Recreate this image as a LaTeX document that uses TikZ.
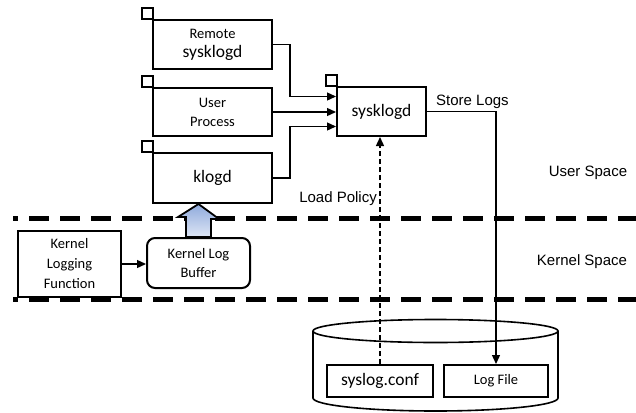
\documentclass[tikz,border=0pt]{standalone}
\usepackage{fontspec}
\setmainfont{Carlito}
\newfontfamily\arialfont{Liberation Sans}
\usetikzlibrary{arrows.meta}
\definecolor{arrowtop}{RGB}{143,170,220}
\definecolor{arrowbot}{RGB}{222,230,245}

\begin{document}
\begin{tikzpicture}[x=1pt,y=-1pt,
            box/.style = {draw, line width=2pt, fill=white, align=center,
                        inner sep=0pt, font=\fontsize{14.5}{19}\selectfont},
            big/.style = {font=\fontsize{17.5}{20}\selectfont},
            lbl/.style = {font=\arialfont\fontsize{15}{18}\selectfont, inner sep=0pt},
            arr/.style = {line width=1.3pt, -{Triangle[length=9pt,width=8pt]}},
            sep/.style = {line width=5pt, dash pattern=on 20pt off 11pt, dash phase=15pt},
            bigarrow/.style = {draw, line width=1.8pt, top color=arrowtop, bottom color=arrowbot}]
            \useasboundingbox (0,0) rectangle (636,412);

            % Space borders
            \draw[sep] (13,218) -- (636,218);
            \draw[sep] (13,299) -- (636,299);
            \node[lbl] (user space) at (588,173) {User Space};
            \node[lbl] (kernel space) at (582,262) {Kernel Space};

            % Disk
            \draw[line width=1.6pt] (435.5,331) ellipse [x radius=122.5pt, y radius=11.5pt];
            \draw[line width=1.6pt] (313,331) -- (313,398)
                arc[start angle=180, end angle=360, x radius=122.5pt, y radius=13pt] -- (558,331);
            \node[box, big, minimum width=106pt, minimum height=32pt] (conf) at (380,381) {syslog.conf};
            \node[box, minimum width=104pt, minimum height=32pt] (logfile) at (496,381) {Log File};

            % Daemons
            \node[box, minimum width=119pt, minimum height=49pt] (remote) at (212.5,44.5)
                {Remote\\{\fontsize{17.5}{20}\selectfont sysklogd}};
            \node[box, minimum width=119pt, minimum height=48pt] (user) at (212.5,112) {User\\Process};
            \node[box, big, minimum width=119pt, minimum height=50pt] (klogd) at (212.5,178) {klogd};
            \node[box, big, minimum width=89pt, minimum height=49pt] (sysklogd) at (381.5,111.5) {sysklogd};
            \foreach \n in {remote,user,klogd,sysklogd}
                \draw[line width=2pt] ([xshift=1pt]\n.north west) rectangle ++(-11,-11);

            % Kernel side
            \node[box, minimum width=103pt, minimum height=66pt] (klf) at (69.5,264)
                {Kernel\\[1pt]Logging\\[1pt]Function};
            \node[box, rounded corners=8pt, minimum width=103pt, minimum height=50pt] (klb) at (198.5,263)
                {Kernel Log\\Buffer};
            \draw[arr] (klf.east) -- (klf.east -| klb.west);
            \draw[bigarrow] ([xshift=-12.5pt]klb.north) -- ++(0,-20) -- ++(-8,0)
                -- (klb.north |- klogd.south) -- ++(20.5,15) -- ++(-8,0)
                -- ([xshift=12.5pt]klb.north) -- cycle;

            % Log flow
            \draw[arr] (remote.east) -- ++(17,0) |- ([yshift=15pt]sysklogd.west);
            \draw[arr] (user.east) -- (user.east -| sysklogd.west);
            \draw[arr] (klogd.east) -- ++(17,0) |- ([yshift=-15pt]sysklogd.west);
            \draw[arr, dash pattern=on 5pt off 3pt] (conf.north) -- (conf.north |- sysklogd.south);
            \draw[arr] (sysklogd.east) -| (logfile.north);
            \node[lbl, anchor=east] (policy) at (377,199) {Load Policy};
            \node[lbl, anchor=west] (store) at (436,102) {Store Logs};
        \end{tikzpicture}
\end{document}
